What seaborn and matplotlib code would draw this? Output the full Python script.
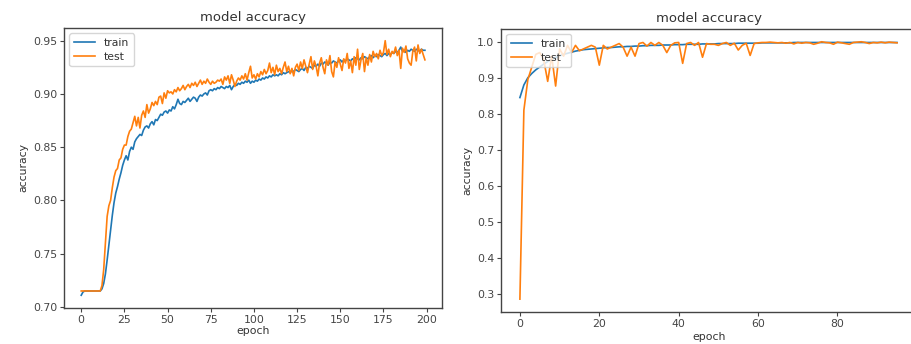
import numpy as np
import pandas as pd
import matplotlib
matplotlib.use("Agg")
import matplotlib.pyplot as plt
import seaborn as sns

# left run: 200 epochs
train_a = [
    0.711, 0.714, 0.715, 0.715, 0.715, 0.715, 0.715, 0.715, 0.715, 0.715,
    0.715, 0.715, 0.717, 0.722, 0.731, 0.744, 0.758, 0.772, 0.786, 0.798,
    0.807, 0.813, 0.820, 0.826, 0.833, 0.838, 0.842, 0.838, 0.846, 0.850,
    0.848, 0.855, 0.858, 0.860, 0.862, 0.861, 0.866, 0.869, 0.870, 0.868,
    0.872, 0.874, 0.871, 0.876, 0.875, 0.878, 0.881, 0.880, 0.883, 0.884,
    0.882, 0.885, 0.884, 0.888, 0.886, 0.890, 0.895, 0.891, 0.890, 0.893,
    0.892, 0.894, 0.896, 0.893, 0.895, 0.897, 0.896, 0.893, 0.897, 0.899,
    0.898, 0.900, 0.901, 0.899, 0.903, 0.904, 0.903, 0.905, 0.904, 0.906,
    0.905, 0.907, 0.906, 0.905, 0.907, 0.906, 0.908, 0.904, 0.907, 0.909,
    0.908, 0.910, 0.909, 0.911, 0.910, 0.912, 0.911, 0.913, 0.910, 0.912,
    0.911, 0.913, 0.912, 0.914, 0.913, 0.915, 0.914, 0.916, 0.915, 0.917,
    0.916, 0.918, 0.917, 0.918, 0.917, 0.919, 0.918, 0.920, 0.919, 0.920,
    0.921, 0.920, 0.922, 0.921, 0.923, 0.922, 0.921, 0.923, 0.924, 0.922,
    0.925, 0.924, 0.926, 0.925, 0.924, 0.927, 0.926, 0.928, 0.926, 0.929,
    0.928, 0.930, 0.929, 0.927, 0.930, 0.929, 0.931, 0.930, 0.929, 0.931,
    0.932, 0.930, 0.932, 0.931, 0.933, 0.932, 0.931, 0.933, 0.932, 0.934,
    0.933, 0.932, 0.934, 0.933, 0.935, 0.934, 0.933, 0.935, 0.936, 0.934,
    0.936, 0.935, 0.937, 0.936, 0.935, 0.937, 0.938, 0.936, 0.938, 0.937,
    0.939, 0.938, 0.940, 0.939, 0.941, 0.944, 0.940, 0.941, 0.939, 0.941,
    0.940, 0.942, 0.941, 0.940, 0.942, 0.941, 0.940, 0.942, 0.941, 0.941,
]
test_a = [
    0.715, 0.715, 0.715, 0.715, 0.715, 0.715, 0.715, 0.715, 0.715, 0.715,
    0.715, 0.715, 0.720, 0.735, 0.760, 0.785, 0.795, 0.800, 0.812, 0.822,
    0.828, 0.830, 0.838, 0.840, 0.848, 0.852, 0.852, 0.860, 0.865, 0.867,
    0.873, 0.879, 0.870, 0.878, 0.868, 0.880, 0.884, 0.878, 0.890, 0.882,
    0.886, 0.892, 0.889, 0.893, 0.890, 0.897, 0.898, 0.891, 0.901, 0.896,
    0.903, 0.901, 0.902, 0.900, 0.904, 0.902, 0.906, 0.903, 0.905, 0.908,
    0.904, 0.907, 0.909, 0.906, 0.910, 0.908, 0.911, 0.907, 0.910, 0.913,
    0.909, 0.912, 0.910, 0.914, 0.911, 0.909, 0.912, 0.910, 0.911, 0.913,
    0.912, 0.914, 0.909, 0.916, 0.913, 0.917, 0.910, 0.918, 0.913, 0.907,
    0.912, 0.915, 0.913, 0.917, 0.914, 0.919, 0.913, 0.920, 0.926, 0.915,
    0.918, 0.914, 0.919, 0.916, 0.921, 0.918, 0.923, 0.919, 0.922, 0.929,
    0.920, 0.925, 0.918, 0.927, 0.921, 0.924, 0.919, 0.925, 0.930, 0.921,
    0.926, 0.919, 0.924, 0.917, 0.925, 0.928, 0.922, 0.930, 0.924, 0.932,
    0.926, 0.920, 0.928, 0.935, 0.923, 0.931, 0.926, 0.917, 0.929, 0.934,
    0.925, 0.919, 0.932, 0.927, 0.936, 0.921, 0.916, 0.930, 0.925, 0.934,
    0.928, 0.922, 0.933, 0.929, 0.938, 0.924, 0.931, 0.920, 0.935, 0.927,
    0.942, 0.923, 0.932, 0.938, 0.921, 0.934, 0.927, 0.937, 0.930, 0.940,
    0.935, 0.938, 0.933, 0.941, 0.936, 0.939, 0.950, 0.937, 0.942, 0.935,
    0.940, 0.938, 0.944, 0.936, 0.941, 0.924, 0.943, 0.939, 0.945, 0.933,
    0.929, 0.927, 0.940, 0.944, 0.931, 0.946, 0.938, 0.942, 0.937, 0.932,
]

# right run: 96 epochs
train_b = [
    0.845, 0.880, 0.900, 0.912, 0.922, 0.930, 0.938, 0.945, 0.951, 0.956,
    0.961, 0.965, 0.968, 0.971, 0.974, 0.976, 0.978, 0.979, 0.980, 0.981,
    0.982, 0.983, 0.984, 0.984, 0.985, 0.986, 0.986, 0.987, 0.987, 0.988,
    0.988, 0.989, 0.989, 0.990, 0.990, 0.990, 0.991, 0.991, 0.991, 0.992,
    0.992, 0.992, 0.993, 0.993, 0.993, 0.993, 0.994, 0.994, 0.994, 0.994,
    0.995, 0.995, 0.995, 0.995, 0.995, 0.996, 0.996, 0.996, 0.996, 0.996,
    0.996, 0.997, 0.997, 0.997, 0.997, 0.997, 0.997, 0.997, 0.997, 0.998,
    0.998, 0.998, 0.998, 0.998, 0.998, 0.998, 0.998, 0.998, 0.998, 0.998,
    0.998, 0.998, 0.998, 0.998, 0.998, 0.998, 0.998, 0.998, 0.998, 0.998,
    0.998, 0.998, 0.998, 0.998, 0.998, 0.998,
]
test_b = [
    0.285, 0.810, 0.895, 0.930, 0.965, 0.970, 0.950, 0.890, 0.960, 0.877,
    0.980, 0.960, 0.990, 0.970, 0.990, 0.975, 0.980, 0.985, 0.990, 0.985,
    0.935, 0.990, 0.980, 0.985, 0.990, 0.995, 0.985, 0.960, 0.985, 0.960,
    0.995, 0.998, 0.988, 0.998, 0.990, 0.998, 0.990, 0.970, 0.990, 0.997,
    0.998, 0.940, 0.995, 0.998, 0.990, 0.998, 0.957, 0.995, 0.993, 0.993,
    0.990, 0.995, 0.998, 0.990, 0.996, 0.977, 0.990, 0.996, 0.962, 0.995,
    0.997, 0.998, 0.998, 0.999, 0.998, 0.997, 0.998, 0.996, 0.998, 0.994,
    0.998, 0.996, 0.998, 0.997, 0.993, 0.996, 1.000, 0.998, 0.997, 0.993,
    0.999, 0.997, 0.995, 0.993, 0.998, 0.999, 1.000, 0.998, 0.995, 0.998,
    0.997, 0.999, 0.997, 0.999, 0.998, 0.997,
]

plt.rcParams['font.family'] = ['DejaVu Sans']
plt.rcParams['axes.edgecolor'] = '#444444'
plt.rcParams['text.color'] = '#333333'
plt.rcParams['axes.labelcolor'] = '#333333'
plt.rcParams['xtick.color'] = '#444444'
plt.rcParams['ytick.color'] = '#444444'

fig = plt.figure(figsize=(9.11, 3.44), dpi=100)
ax1 = fig.add_axes([0.0703, 0.1047, 0.415, 0.814])
# right panel runs past the edge of the image, like the cropped original
ax2 = fig.add_axes([0.550, 0.093, 0.463, 0.823])

blue, orange = '#1f77b4', '#ff7f0e'

for ax, tr, te in [(ax1, train_a, test_a), (ax2, train_b, test_b)]:
    ep = np.arange(len(tr))
    sns.lineplot(x=ep, y=tr, ax=ax, color=blue, lw=1.2, label='train')
    sns.lineplot(x=ep, y=te, ax=ax, color=orange, lw=1.2, label='test')
    ax.set_title('model accuracy', fontsize=9.5, pad=5)
    ax.set_xlabel('epoch', fontsize=7.8, labelpad=1)
    ax.set_ylabel('accuracy', fontsize=7.8, labelpad=3)
    ax.tick_params(labelsize=7.8, length=3, width=0.8, pad=2)
    ax.legend(loc='upper left', fontsize=7.8, handlelength=2, borderpad=0.4,
              labelspacing=0.4, framealpha=0.8)
    for s in ax.spines.values():
        s.set_linewidth(1.0)

ax1.set_xticks([0, 25, 50, 75, 100, 125, 150, 175, 200])
ax1.set_yticks([0.70, 0.75, 0.80, 0.85, 0.90, 0.95])
ax1.yaxis.set_major_formatter(matplotlib.ticker.FormatStrFormatter('%.2f'))
ax2.set_xlim(-4.75, 101.5)
ax2.set_xticks([0, 20, 40, 60, 80])
ax2.set_yticks([0.3, 0.4, 0.5, 0.6, 0.7, 0.8, 0.9, 1.0])
# keep title and label centred where the uncropped axes would centre them
ax2.set_title('model accuracy', fontsize=9.5, pad=5, x=0.492)
ax2.xaxis.set_label_coords(0.492, -0.072)

fig.savefig('out.png', dpi=100)
